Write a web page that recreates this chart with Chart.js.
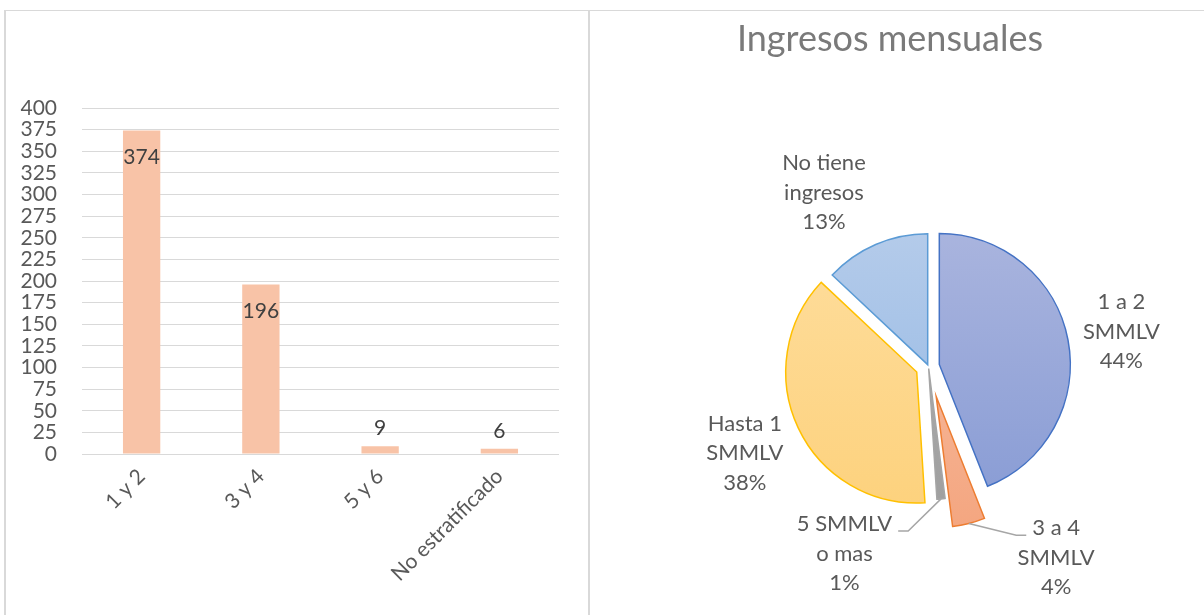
<!DOCTYPE html>
<html>
<head>
<meta charset="utf-8">
<script src="https://cdn.jsdelivr.net/npm/chart.js@4.4.1/dist/chart.umd.min.js"></script>
<style>
  body { margin: 0; background: #fff; font-family: Lato, sans-serif; }
  canvas { position: absolute; }
  .line { position: absolute; background: #d9d9d9; }
  #pieTitle { position: absolute; left: 690px; top: 19px; width: 400px; text-align: center;
              font-size: 36px; line-height: 36px; color: #7a7a7a; }
</style>
</head>
<body>
<canvas id="barChart" width="588" height="615" style="left:0;top:0"></canvas>
<canvas id="pieChart" width="613" height="604" style="left:591px;top:11px"></canvas>
<div class="line" style="left:4px;top:10px;width:1200px;height:1px"></div>
<div class="line" style="left:4px;top:10px;width:2px;height:605px"></div>
<div class="line" style="left:588px;top:10px;width:2px;height:605px"></div>
<div id="pieTitle">Ingresos mensuales</div>
<script>
// bar chart data (estrato)
const barCategories = ['1 y 2', '3 y 4', '5 y 6', 'No estratificado'];
const barValues = [374, 196, 9, 6];
const yMax = 400;
const yStep = 25;

// pie chart data (ingresos mensuales, %)
const pieNames = [['1 a 2', 'SMMLV'], ['3 a 4', 'SMMLV'], ['5 SMMLV', 'o mas'], ['Hasta 1', 'SMMLV'], ['No tiene', 'ingresos']];
const piePercents = [44, 4, 1, 38, 13];

// pie styling
const pieTop = ['#a9b4de', '#f7bea4', '#b0b0b0', '#fedd9c', '#b4cbea'];
const pieBottom = ['#8a9dd5', '#f4a680', '#a0a0a0', '#fdd27e', '#94b8e4'];
const pieBorder = ['#4472c4', '#ed7d31', '#a5a5a5', '#ffc000', '#5b9bd5'];
const explode = [11, 31, 2, 13, 2];
const labelShift = [0.6, -19.3, 29.6, 0, -7.6];
const labelDist = [196, 230, 205, 203, 203];
const hasLeader = [false, true, true, false, false];
const pieRadius = 131;

Chart.defaults.font.family = 'Lato';
Chart.defaults.color = '#595959';

//value labels on the bars
const barLabels = {
    id: 'barLabels',
    afterDatasetsDraw(chart) {
        const ctx = chart.ctx;
        const meta = chart.getDatasetMeta(0);
        ctx.save();
        ctx.font = '21px Lato';
        ctx.fillStyle = '#404040';
        ctx.textAlign = 'center';
        ctx.textBaseline = 'middle';
        meta.data.forEach((bar, i) => {
            const h = bar.base - bar.y;
            const y = h > 40 ? bar.y + 27 : bar.y - 18;
            ctx.fillText(String(barValues[i]), bar.x, y);
        });
        ctx.restore();
    }
};

//exploded slices + labels
const pieExtras = {
    id: 'pieExtras',
    beforeDatasetDraw(chart, args) {
        const ctx = chart.ctx;
        args.meta.data.forEach((arc, i) => {
            const mid = (arc.startAngle + arc.endAngle) / 2;
            ctx.save();
            ctx.translate(Math.cos(mid) * explode[i], Math.sin(mid) * explode[i]);
            arc.draw(ctx);
            ctx.restore();
        });
        return false;
    },
    afterDatasetsDraw(chart) {
        const ctx = chart.ctx;
        const arcs = chart.getDatasetMeta(0).data;
        const lineH = 29.5;
        ctx.save();
        ctx.font = '22px Lato';
        ctx.fillStyle = '#595959';
        ctx.textAlign = 'center';
        ctx.textBaseline = 'middle';
        arcs.forEach((arc, i) => {
            const mid = (arc.startAngle + arc.endAngle) / 2;
            const a = mid + labelShift[i] * Math.PI / 180;
            const lx = arc.x + Math.cos(a) * labelDist[i];
            const ly = arc.y + Math.sin(a) * labelDist[i];
            const lines = pieNames[i].concat([piePercents[i] + '%']);
            lines.forEach((t, k) => {
                ctx.fillText(t, lx, ly + (k - (lines.length - 1) / 2) * lineH);
            });
            if (hasLeader[i]) {
                const r = arc.outerRadius + explode[i];
                const sx = arc.x + Math.cos(mid) * r;
                const sy = arc.y + Math.sin(mid) * r;
                const firstY = ly - (lines.length - 1) / 2 * lineH;
                const w = ctx.measureText(lines[0]).width;
                const side = lx > arc.x ? -1 : 1;
                const ex = lx + side * (w / 2 + 6);
                const ey = firstY + 7;
                const kx = ex + side * 10;
                ctx.strokeStyle = '#a6a6a6';
                ctx.lineWidth = 1.5;
                ctx.beginPath();
                ctx.moveTo(sx, sy);
                ctx.lineTo(kx, ey);
                ctx.lineTo(ex, ey);
                ctx.stroke();
            }
        });
        ctx.restore();
    }
};

new Chart(document.getElementById('barChart'), {
    type: 'bar',
    data: {
        labels: barCategories,
        datasets: [{
            data: barValues,
            backgroundColor: '#f8c3a7',
            barPercentage: 0.313,
            categoryPercentage: 1
        }]
    },
    options: {
        responsive: false,
        animation: false,
        layout: { padding: { top: 108, right: 29, left: 0, bottom: 0 } },
        plugins: { legend: { display: false }, tooltip: { enabled: false } },
        scales: {
            y: {
                min: 0,
                max: yMax,
                ticks: { stepSize: yStep, autoSkip: false, padding: 25, font: { size: 21 }, color: '#595959' },
                grid: { color: '#d9d9d9', lineWidth: 1, drawTicks: false },
                border: { display: false },
                afterFit: (s) => { s.width = 82; }
            },
            x: {
                ticks: { minRotation: 45, maxRotation: 45, autoSkip: false, padding: 10, font: { size: 21 }, color: '#595959' },
                grid: { display: false, drawTicks: false },
                border: { display: false },
                afterFit: (s) => { s.height = 161; }
            }
        }
    },
    plugins: [barLabels]
});

new Chart(document.getElementById('pieChart'), {
    type: 'pie',
    data: {
        labels: pieNames.map(n => n.join(' ')),
        datasets: [{
            data: piePercents,
            radius: pieRadius,
            backgroundColor: (c) => {
                const i = c.dataIndex ?? 0;
                const area = c.chart.chartArea;
                if (!area) return pieTop[i];
                const cy = (area.top + area.bottom) / 2;
                const g = c.chart.ctx.createLinearGradient(0, cy - pieRadius, 0, cy + pieRadius);
                g.addColorStop(0, pieTop[i]);
                g.addColorStop(1, pieBottom[i]);
                return g;
            },
            borderColor: pieBorder,
            borderWidth: 1.5,
            borderJoinStyle: 'miter'
        }]
    },
    options: {
        responsive: false,
        animation: false,
        layout: { padding: { top: 107, left: 62, right: 0, bottom: 0 } },
        plugins: { legend: { display: false }, tooltip: { enabled: false } }
    },
    plugins: [pieExtras]
});
</script>
</body>
</html>
